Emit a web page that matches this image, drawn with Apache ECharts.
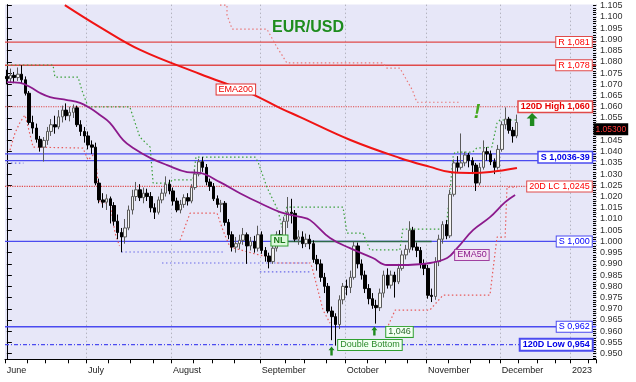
<!DOCTYPE html>
<html><head><meta charset="utf-8">
<script src="https://cdn.jsdelivr.net/npm/echarts@6/dist/echarts.min.js"></script>
<style>html,body{margin:0;padding:0;background:#fff}#c{width:636px;height:382px}</style>
</head><body><div id="c"></div>
<script>
// ---------- data ----------
const SLOTS = 160;
const monthLabels = ['June','July','August','September','October','November','December','2023'];
const monthStarts = [0, 22, 45, 69, 92, 114, 134, 153];
const weekTicks = [6, 11, 17, 28, 34, 40, 51, 56, 62, 76, 81, 87, 98, 103, 109, 120, 126, 131, 139, 144, 149, 158];
const yTickValues = [0.950,0.955,0.960,0.965,0.970,0.975,0.980,0.985,0.990,0.995,1.000,1.005,1.010,1.015,1.020,1.025,1.030,1.035,1.040,1.045,1.050,1.055,1.060,1.065,1.070,1.075,1.080,1.085,1.090,1.095,1.100,1.105];

// [open, close, low, high]
const candles = [
[1.0735,1.0725,1.0700,1.0765],[1.0725,1.0740,1.0710,1.0770],[1.0740,1.0730,1.0705,1.0755],[1.0730,1.0745,1.0715,1.0775],
[1.0745,1.0720,1.0705,1.0785],[1.0720,1.0660,1.0650,1.0735],[1.0660,1.0530,1.0520,1.0670],[1.0530,1.0505,1.0480,1.0560],
[1.0505,1.0455,1.0440,1.0525],[1.0455,1.0420,1.0400,1.0470],[1.0420,1.0450,1.0356,1.0465],[1.0450,1.0490,1.0430,1.0510],
[1.0490,1.0520,1.0470,1.0545],[1.0520,1.0510,1.0480,1.0560],[1.0510,1.0555,1.0500,1.0585],[1.0555,1.0585,1.0530,1.0605],
[1.0585,1.0560,1.0540,1.0615],[1.0560,1.0575,1.0535,1.0600],[1.0575,1.0595,1.0550,1.0610],[1.0595,1.0520,1.0510,1.0605],
[1.0520,1.0490,1.0470,1.0540],[1.0490,1.0470,1.0440,1.0510],[1.0470,1.0430,1.0410,1.0490],[1.0430,1.0420,1.0390,1.0450],
[1.0420,1.0260,1.0250,1.0440],[1.0260,1.0185,1.0170,1.0280],[1.0185,1.0175,1.0150,1.0215],[1.0175,1.0190,1.0140,1.0210],
[1.0190,1.0160,1.0080,1.0200],[1.0160,1.0090,1.0070,1.0175],[1.0090,1.0040,1.0010,1.0120],[1.0040,1.0020,0.9952,1.0060],
[1.0020,1.0060,0.9990,1.0100],[1.0060,1.0140,1.0050,1.0160],[1.0140,1.0200,1.0120,1.0230],[1.0200,1.0230,1.0180,1.0265],
[1.0230,1.0195,1.0180,1.0255],[1.0195,1.0215,1.0170,1.0240],[1.0215,1.0200,1.0180,1.0235],[1.0200,1.0150,1.0130,1.0220],
[1.0150,1.0130,1.0100,1.0170],[1.0130,1.0185,1.0120,1.0200],[1.0185,1.0215,1.0170,1.0235],[1.0215,1.0255,1.0200,1.0290],
[1.0255,1.0225,1.0210,1.0275],[1.0225,1.0180,1.0160,1.0240],[1.0180,1.0140,1.0130,1.0195],[1.0140,1.0165,1.0125,1.0185],
[1.0165,1.0195,1.0150,1.0210],[1.0195,1.0180,1.0160,1.0215],[1.0180,1.0240,1.0170,1.0255],[1.0240,1.0300,1.0230,1.0320],
[1.0300,1.0355,1.0290,1.0368],[1.0355,1.0330,1.0310,1.0376],[1.0330,1.0265,1.0250,1.0345],[1.0265,1.0245,1.0225,1.0280],
[1.0245,1.0190,1.0180,1.0260],[1.0190,1.0165,1.0150,1.0205],[1.0165,1.0170,1.0130,1.0185],[1.0170,1.0085,1.0070,1.0180],
[1.0085,1.0030,1.0010,1.0100],[1.0030,0.9975,0.9955,1.0045],[0.9975,0.9990,0.9950,1.0020],[0.9990,1.0005,0.9965,1.0030],
[1.0005,1.0030,0.9985,1.0060],[1.0030,0.9980,0.9900,1.0040],[0.9980,1.0000,0.9960,1.0020],[1.0000,0.9970,0.9950,1.0025],
[0.9970,1.0030,0.9955,1.0070],[1.0030,0.9960,0.9945,1.0045],[0.9960,0.9935,0.9910,0.9975],[0.9935,0.9910,0.9880,0.9950],
[0.9910,0.9970,0.9900,0.9985],[0.9970,1.0030,0.9955,1.0045],[1.0030,1.0000,0.9985,1.0050],[1.0000,1.0090,0.9990,1.0110],
[1.0090,1.0130,1.0060,1.0198],[1.0130,1.0125,1.0080,1.0190],[1.0125,1.0010,1.0000,1.0140],[1.0010,1.0020,0.9985,1.0050],
[1.0020,0.9990,0.9970,1.0045],[0.9990,1.0010,0.9975,1.0035],[1.0010,0.9990,0.9965,1.0030],[0.9990,0.9920,0.9905,1.0005],
[0.9920,0.9900,0.9870,0.9940],[0.9900,0.9840,0.9820,0.9920],[0.9840,0.9800,0.9770,0.9860],[0.9800,0.9690,0.9680,0.9815],
[0.9690,0.9665,0.9560,0.9710],[0.9665,0.9630,0.9536,0.9680],[0.9630,0.9740,0.9610,0.9760],[0.9740,0.9800,0.9720,0.9815],
[0.9800,0.9795,0.9760,0.9830],[0.9795,0.9840,0.9770,0.9870],[0.9840,0.9980,0.9830,0.9999],[0.9980,0.9900,0.9880,0.9995],
[0.9900,0.9850,0.9830,0.9920],[0.9850,0.9790,0.9770,0.9870],[0.9790,0.9745,0.9720,0.9810],[0.9745,0.9715,0.9700,0.9770],
[0.9715,0.9705,0.9634,0.9740],[0.9705,0.9770,0.9690,0.9790],[0.9770,0.9850,0.9750,0.9870],[0.9850,0.9805,0.9790,0.9880],
[0.9805,0.9850,0.9790,0.9870],[0.9850,0.9820,0.9750,0.9865],[0.9820,0.9880,0.9810,0.9900],[0.9880,0.9940,0.9870,0.9960],
[0.9940,0.9965,0.9920,0.9985],[0.9965,1.0050,0.9950,1.0090],[1.0050,0.9975,0.9960,1.0065],[0.9975,0.9960,0.9930,0.9995],
[0.9960,0.9900,0.9880,0.9975],[0.9900,0.9880,0.9850,0.9920],[0.9880,0.9760,0.9745,0.9895],[0.9760,0.9755,0.9730,0.9790],
[0.9755,0.9910,0.9740,0.9930],[0.9910,1.0010,0.9890,1.0030],[1.0010,1.0075,0.9990,1.0090],[1.0075,1.0025,1.0010,1.0095],
[1.0025,1.0210,1.0015,1.0230],[1.0210,1.0350,1.0200,1.0365],[1.0350,1.0330,1.0310,1.0380],[1.0330,1.0350,1.0320,1.0481],
[1.0350,1.0385,1.0335,1.0400],[1.0385,1.0360,1.0330,1.0395],[1.0360,1.0340,1.0300,1.0375],[1.0340,1.0260,1.0225,1.0350],
[1.0260,1.0330,1.0250,1.0350],[1.0330,1.0400,1.0320,1.0450],[1.0400,1.0390,1.0360,1.0420],[1.0390,1.0355,1.0340,1.0405],
[1.0355,1.0330,1.0300,1.0370],[1.0330,1.0410,1.0320,1.0430],[1.0410,1.0520,1.0400,1.0535],[1.0520,1.0545,1.0500,1.0597],
[1.0545,1.0495,1.0480,1.0555],[1.0495,1.0470,1.0440,1.0510],[1.0470,1.0530,1.0460,1.0565]
];

// indicator readings: [slot, value]
const ema200 = [[15.7,1.1053],[25.2,1.0955],[36.1,1.0853],[52.3,1.0746],[65.8,1.0661],[74,1.0594],[79.4,1.0554],[93,1.0452],[106.4,1.0372],[114.6,1.0332],[120,1.0309],[125.4,1.0305],[130.8,1.0309],[138.1,1.0327]];
const ema50 = [[0,1.0710],[3.6,1.0706],[6.3,1.0688],[9,1.0661],[11.7,1.0643],[16.3,1.0630],[19.8,1.0617],[22.5,1.0594],[25.2,1.0563],[27.9,1.0528],[31.5,1.0451],[34.2,1.0416],[38.8,1.0372],[43.4,1.0340],[48.8,1.0309],[52.3,1.0305],[57.7,1.0264],[63.1,1.0215],[68.5,1.0171],[74,1.0131],[79.4,1.0109],[82.1,1.0095],[87.5,1.0015],[92.9,0.9970],[99.1,0.9926],[102.9,0.9895],[106.4,0.9895],[114.6,0.9904],[119.2,0.9926],[121.9,0.9970],[126.2,1.0050],[130.8,1.0108],[134.9,1.0175],[137.6,1.0207]];
const greenStop = [[0,1.0786],[12.5,1.0786],[13,1.0732],[19.3,1.0732],[20.3,1.0674],[22,1.0599],[33.3,1.0599],[34.2,1.0554],[36,1.0465],[38.8,1.0420],[39.6,1.0260],[44.2,1.0260],[44.7,1.0274],[50.4,1.0274],[51.2,1.0376],[67.2,1.0376],[68,1.0354],[70.4,1.0242],[73.4,1.0139],[74.5,1.0063],[75,1.0063],[75.8,1.0153],[91,1.0153],[92.1,1.0037],[96.4,1.0037],[98.3,0.9962],[106.4,0.9962],[107.2,1.0055],[118.9,1.0055],[120,1.0229],[120.8,1.0376],[121.3,1.0398],[126.1,1.0398],[127.2,1.0416],[131.3,1.0420],[132.7,1.0527],[133.5,1.0541],[138.1,1.0541]];
const redStopA = [[0.85,1.0407],[2.2,1.0483],[3.6,1.0532],[4.9,1.0563],[5.5,1.0527],[7.1,1.0420],[20.6,1.0416],[22,1.0363],[23.9,1.0394],[25.2,1.0171],[27.9,1.0171],[29.3,1.0037],[30.5,0.9980]];
const redStopB = [[46.9,1.0006],[49.6,1.0126],[56.9,1.0126],[58.5,1.0050],[60.4,0.9975],[68.5,0.9939],[71.2,0.9930]];
const redStopC = [[73.1,0.9904],[82.1,0.9904],[82.6,0.9886],[85.6,0.9694],[87.5,0.9636]];
const redStopD = [[103.3,0.9627],[105.1,0.9694],[114.5,0.9694],[118.1,0.9761],[130.8,0.9761],[131.6,0.9872],[132.7,1.0019],[134.9,1.0019],[135.4,1.0242],[138.1,1.0242]];
const blueLowA = [[0,1.0349],[4.5,1.0349]];
const blueLowB = [[31,0.9953],[58.5,0.9953]];
const blueLowC = [[42,0.9904],[82,0.9904]];
const blueLowD = [[68.5,0.9864],[82,0.9864]];
const upperBand = [[57.7,1.1053],[59.6,1.1053],[59.6,1.1009],[61,1.0946],[70.4,1.0946],[73.1,1.0866],[74.5,1.0830],[75.8,1.0795],[101.8,1.0795],[102.9,1.0772],[106.4,1.0772],[109.8,1.0674],[111,1.0620],[122.4,1.0620]];
const neckline = [[72.6,1.0000],[115,1.0000]];

const levelValues = [1.0888, 1.0785, 1.0600, 1.0390, 1.0360, 1.0245, 1.0000, 0.9620, 0.9540];
const levelLabels = ['R 1,081', 'R 1,078', '120D High 1,060', 'S 1,0036-39', '', '20D LC 1,0245', 'S 1,000', 'S 0,962', '120D Low 0,954'];
const lastPriceLabel = '1.05300';
const lastPriceLevel = 1.0500;

// ---------- chart ----------
const FONT = '"Liberation Sans", Arial, sans-serif';
const cats = Array.from({length: SLOTS}, (_, i) => String(i));
const minorTicks = [];
for (let k = 948; k <= 1105; k++) minorTicks.push(k / 1000);

const RED = '#e04a4a', BLUE = '#4b4bf0';
const levelStyles = [
  {c: RED, t: 'solid', w: 1.4, fc: '#ff0000', bold: false, bw: 1},
  {c: RED, t: 'solid', w: 1.4, fc: '#ff0000', bold: false, bw: 1},
  {c: RED, t: 'dotted', w: 1.2, fc: '#e80000', bold: true, bw: 1.5},
  {c: BLUE, t: 'solid', w: 1.3, fc: '#0000e8', bold: true, bw: 1.5},
  {c: BLUE, t: 'solid', w: 1.3},
  {c: RED, t: 'dotted', w: 1.2, fc: '#ff0000', bold: false, bw: 1},
  {c: BLUE, t: 'solid', w: 1.3, fc: '#0000ff', bold: false, bw: 1},
  {c: BLUE, t: 'solid', w: 1.3, fc: '#0000ff', bold: false, bw: 1},
  {c: BLUE, t: 'dashed', w: 1.2, fc: '#0000e8', bold: true, bw: 2, dash: [4, 2, 1, 2]}
];

const series = [];
levelValues.forEach((v, k) => {
  const s = levelStyles[k];
  series.push({
    type: 'line', xAxisIndex: 1, yAxisIndex: 0, silent: true, symbol: 'none', z: 1,
    data: [[-0.5, v], [SLOTS - 0.5, v]],
    lineStyle: {color: s.c, width: s.w, type: s.dash ? s.dash : s.t}
  });
});
series.push({
  type: 'line', xAxisIndex: 1, symbol: 'none', silent: true, z: 2, data: neckline,
  lineStyle: {color: '#2d6a4a', width: 1.4}
});
function dotted(data, color) {
  return {type: 'line', xAxisIndex: 1, symbol: 'none', silent: true, z: 2, data: data,
    lineStyle: {color: color, width: 1.2, type: [1.5, 2.5]}};
}
series.push(dotted(greenStop, '#3aa03a'));
[redStopA, redStopB, redStopC, redStopD].forEach(d => series.push(dotted(d, '#e85a5a')));
[blueLowA, blueLowB, blueLowC, blueLowD].forEach(d => series.push(dotted(d, '#6a6ae8')));
series.push(dotted(upperBand, '#ea7a7a'));

series.push({
  type: 'candlestick', xAxisIndex: 0, yAxisIndex: 0, data: candles, barWidth: 3, z: 3,
  itemStyle: {color: '#f4f4f4', color0: '#000000', borderColor: '#5a5a5a', borderColor0: '#000000', borderWidth: 1}
});
series.push({type: 'line', xAxisIndex: 1, symbol: 'none', silent: true, z: 4, smooth: 0.4, data: ema200,
  lineStyle: {color: '#f01414', width: 2}});
series.push({type: 'line', xAxisIndex: 1, symbol: 'none', silent: true, z: 4, smooth: 0.4, data: ema50,
  lineStyle: {color: '#8c1a8c', width: 1.8}});

// labels for level lines (right edge)
const lvlLabelData = [];
levelValues.forEach((v, k) => {
  if (!levelLabels[k]) return;
  const s = levelStyles[k];
  let y = v;
  if (k === 3) y = (levelValues[3] + levelValues[4]) / 2;
  lvlLabelData.push({
    value: [SLOTS - 0.7, y],
    label: {show: true, position: 'left', distance: 3, formatter: levelLabels[k],
      color: s.fc, fontSize: 9, fontWeight: s.bold ? 'bold' : 'normal', fontFamily: FONT,
      backgroundColor: '#ffffff', borderColor: s.c, borderWidth: s.bw, padding: [1, 2, 0, 2]}
  });
});
series.push({type: 'scatter', xAxisIndex: 1, silent: true, z: 6, symbolSize: 1,
  itemStyle: {color: 'rgba(0,0,0,0)', opacity: 1}, data: lvlLabelData});

// annotations
function box(x, y, text, fc, bg, bc, extra) {
  return {value: [x, y], label: Object.assign({show: true, position: 'inside', formatter: text,
    color: fc, fontSize: 9, fontFamily: FONT, backgroundColor: bg, borderColor: bc, borderWidth: 1,
    padding: [1, 2, 0, 2]}, extra || {})};
}
series.push({type: 'scatter', xAxisIndex: 1, silent: true, z: 7, symbolSize: 1,
  itemStyle: {color: 'rgba(0,0,0,0)', opacity: 1},
  data: [
    box(62.0, 1.0677, 'EMA200', '#f00000', '#ffffff', '#e03030'),
    box(125.9, 0.9940, 'EMA50', '#8c1a8c', '#f3e3f3', '#a040a0'),
    box(73.8, 1.0004, 'NL', '#1a7a1a', '#dcf8dc', '#30a030', {fontWeight: 'bold'}),
    box(106.3, 0.9597, '1,046', '#2a6a2a', '#f2fff2', '#30a030'),
    box(98.3, 0.9539, 'Double Bottom', '#2a8a2a', '#f2fff2', '#30a030'),
    {value: [127.3, 1.0576], label: {show: true, position: 'inside', formatter: '!', color: '#46a81e',
      fontSize: 20, fontWeight: 'bold', fontStyle: 'italic', fontFamily: FONT}},
    {value: [SLOTS - 0.5, lastPriceLevel], label: {show: true, position: 'right', distance: -3,
      formatter: lastPriceLabel, color: '#ff3a3a', fontSize: 8.5, fontFamily: FONT,
      backgroundColor: '#000000', padding: [2, 2, 1, 2]}}
  ]});
const ARROW = 'path://M5,0 L10,5 L7,5 L7,12 L3,12 L3,5 L0,5 Z';
series.push({type: 'scatter', xAxisIndex: 1, silent: true, z: 7, symbol: ARROW,
  itemStyle: {color: '#1f8a1f', opacity: 1},
  data: [
    {value: [87.9, 0.9512], symbolSize: [6, 9]},
    {value: [99.5, 0.9601], symbolSize: [6, 9]},
    {value: [142.2, 1.0543], symbolSize: [11, 13]}
  ]});

const option = {
  animation: false,
  backgroundColor: '#ffffff',
  title: {text: 'EUR/USD', left: 267, top: 15,
    textStyle: {fontSize: 16, fontWeight: 'bold', color: '#1e8c1e', fontFamily: FONT,
      textShadowColor: 'rgba(0,60,0,0.6)', textShadowOffsetX: 1, textShadowOffsetY: 1, textShadowBlur: 0}},
  grid: {left: 5, right: 40, top: 4.6, bottom: 22.7, show: true, backgroundColor: '#e7e7f8',
    borderWidth: 0, containLabel: false, outerBoundsMode: 'none'},
  xAxis: [
    {type: 'category', data: cats, boundaryGap: true, position: 'bottom',
      axisLine: {show: true, lineStyle: {color: '#000', width: 1}},
      axisTick: {show: true, length: 4, lineStyle: {color: '#000'},
        interval: (i) => monthStarts.indexOf(i) >= 0 || weekTicks.indexOf(i) >= 0},
      axisLabel: {show: true, interval: (i) => monthStarts.indexOf(i) >= 0,
        formatter: (v, i) => monthLabels[monthStarts.indexOf(Number(v))] || '',
        align: 'left', margin: 7, fontSize: 9, color: '#222', fontFamily: FONT},
      splitLine: {show: true, interval: (i) => i > 0 && monthStarts.indexOf(i) >= 0,
        lineStyle: {color: '#b4b4c0', type: [1.5, 2.5], width: 1}}},
    {type: 'value', min: -0.5, max: SLOTS - 0.5, show: false}
  ],
  yAxis: [
    {type: 'value', position: 'right', min: 0.9475, max: 1.1055, scale: true,
      axisLine: {show: true, lineStyle: {color: '#000', width: 1}},
      axisTick: {show: true, length: 5, customValues: yTickValues, lineStyle: {color: '#000'}},
      axisLabel: {show: true, customValues: yTickValues, formatter: (v) => v.toFixed(3),
        fontSize: 9, color: '#333', margin: 4, fontFamily: FONT},
      splitLine: {show: false}},
    {type: 'value', position: 'right', min: 0.9475, max: 1.1055, scale: true,
      axisLine: {show: false},
      axisTick: {show: true, inside: true, length: 3, customValues: minorTicks, lineStyle: {color: '#000'}},
      axisLabel: {show: false}, splitLine: {show: false}}
  ],
  series: series
};
const chart = echarts.init(document.getElementById('c'), null, {renderer: 'canvas'});
chart.setOption(option);
</script></body></html>
